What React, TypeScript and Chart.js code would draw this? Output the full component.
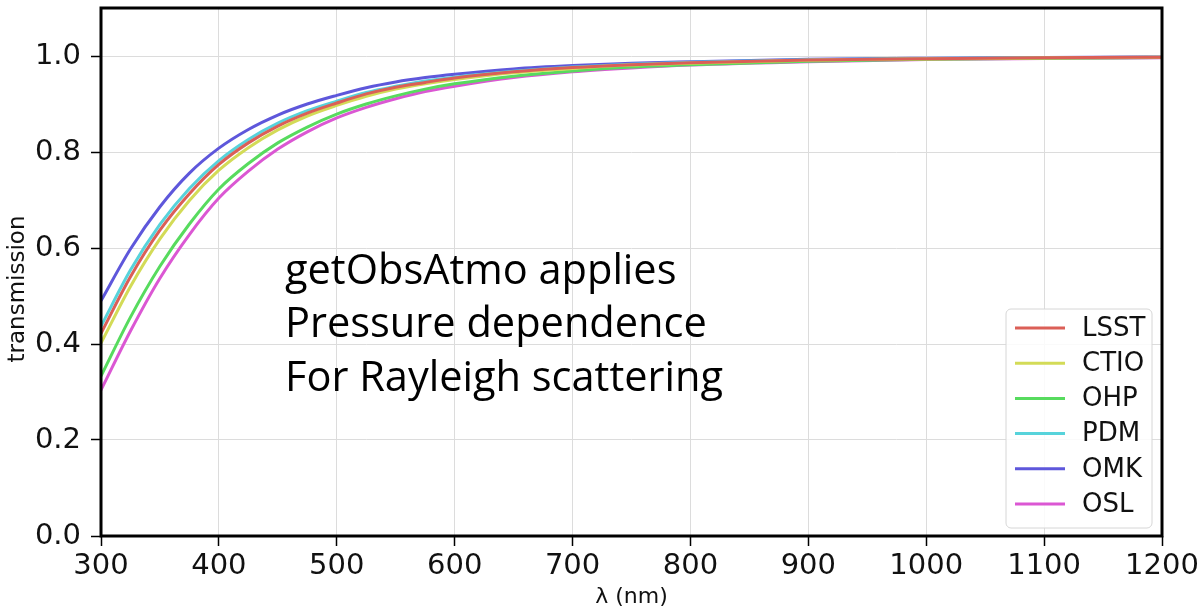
import { useEffect, useRef } from "react";
import { Chart, registerables } from "chart.js";

Chart.register(...registerables);

// ---- data ----
const wavelengths = [300, 325, 350, 375, 400, 425, 450, 475, 500, 525, 550, 575, 600, 650, 700, 750, 800, 900, 1000, 1100, 1200];
const seriesNames = ["LSST", "CTIO", "OHP", "PDM", "OMK", "OSL"];
const seriesColors = ["#db5f57", "#d3db57", "#57db5e", "#57d3db", "#5e57db", "#db57d3"];
const lsst = [0.422, 0.54, 0.637, 0.713, 0.774, 0.819, 0.854, 0.881, 0.902, 0.921, 0.935, 0.945, 0.954, 0.967, 0.976, 0.982, 0.986, 0.9915, 0.9945, 0.9963, 0.9974];
const ctio = [0.402, 0.52, 0.619, 0.699, 0.762, 0.809, 0.846, 0.875, 0.897, 0.916, 0.931, 0.942, 0.951, 0.965, 0.974, 0.981, 0.985, 0.991, 0.994, 0.996, 0.9973];
const ohp = [0.333, 0.456, 0.562, 0.65, 0.723, 0.776, 0.819, 0.852, 0.879, 0.9, 0.917, 0.931, 0.942, 0.958, 0.969, 0.977, 0.982, 0.989, 0.993, 0.9953, 0.9967];
const pdm = [0.437, 0.554, 0.649, 0.724, 0.782, 0.826, 0.86, 0.886, 0.906, 0.924, 0.937, 0.948, 0.956, 0.968, 0.977, 0.983, 0.987, 0.992, 0.995, 0.9965, 0.9975];
const omk = [0.49, 0.598, 0.686, 0.756, 0.808, 0.847, 0.877, 0.9, 0.918, 0.934, 0.946, 0.955, 0.962, 0.973, 0.98, 0.985, 0.988, 0.993, 0.9955, 0.997, 0.998];
const osl = [0.304, 0.427, 0.537, 0.628, 0.704, 0.76, 0.806, 0.842, 0.871, 0.893, 0.911, 0.926, 0.937, 0.955, 0.967, 0.975, 0.981, 0.988, 0.9925, 0.995, 0.9965];
const seriesValues = [lsst, ctio, ohp, pdm, omk, osl];

const xTicks = [300, 400, 500, 600, 700, 800, 900, 1000, 1100, 1200];
const yTicks = [0.0, 0.2, 0.4, 0.6, 0.8, 1.0];
const xAxisLabel = "λ (nm)";
const yAxisLabel = "transmission";
const noteLines = ["getObsAtmo applies", "Pressure dependence", "For Rayleigh scattering"];

const TICK_FONT = "DejaVu Sans";

const framePlugin = {
  id: "frame",
  afterDatasetsDraw(chart: any) {
    const { ctx, chartArea } = chart;
    ctx.save();
    ctx.strokeStyle = "#000";
    ctx.lineWidth = 3;
    ctx.strokeRect(chartArea.left, chartArea.top, chartArea.right - chartArea.left, chartArea.bottom - chartArea.top);
    ctx.restore();
  },
};

const yLabelPlugin = {
  id: "yLabel",
  afterDraw(chart: any) {
    const { ctx } = chart;
    ctx.save();
    ctx.translate(18, 289);
    ctx.rotate(-Math.PI / 2);
    ctx.font = `23px "${TICK_FONT}"`;
    ctx.fillStyle = "#111";
    ctx.textAlign = "center";
    ctx.textBaseline = "middle";
    ctx.fillText(yAxisLabel, 0, 0);
    ctx.restore();
  },
};

const legendPlugin = {
  id: "boxLegend",
  afterDraw(chart: any) {
    const { ctx, chartArea } = chart;
    const w = 146;
    const h = 219;
    const x0 = chartArea.right - 10 - w;
    const y0 = chartArea.bottom - 8 - h;
    ctx.save();
    ctx.beginPath();
    (ctx as any).roundRect(x0, y0, w, h, 5);
    ctx.fillStyle = "rgba(255,255,255,0.85)";
    ctx.fill();
    ctx.strokeStyle = "#d6d6d6";
    ctx.lineWidth = 1;
    ctx.stroke();
    ctx.font = `26px "${TICK_FONT}"`;
    ctx.textBaseline = "middle";
    ctx.textAlign = "left";
    chart.data.datasets.forEach((ds: any, i: number) => {
      const yy = y0 + 19 + i * 35.2;
      ctx.strokeStyle = ds.borderColor;
      ctx.lineWidth = 3;
      ctx.beginPath();
      ctx.moveTo(x0 + 9, yy);
      ctx.lineTo(x0 + 59, yy);
      ctx.stroke();
      ctx.fillStyle = "#111";
      ctx.fillText(ds.label, x0 + 76, yy + 1);
    });
    ctx.restore();
  },
};

const notePlugin = {
  id: "note",
  afterDraw(chart: any) {
    const { ctx } = chart;
    ctx.save();
    ctx.font = '42px "Open Sans"';
    ctx.fillStyle = "#000";
    ctx.textBaseline = "alphabetic";
    ctx.textAlign = "left";
    const ref = ctx.measureText(noteLines[2]).width;
    const sx = 438 / ref;
    const baselines = [284, 337, 391];
    noteLines.forEach((t, i) => {
      ctx.save();
      ctx.translate(285, baselines[i]);
      ctx.scale(sx, 1);
      ctx.fillText(t, 0, 0);
      ctx.restore();
    });
    ctx.restore();
  },
};

export default function App() {
  const ref = useRef<HTMLCanvasElement | null>(null);

  useEffect(() => {
    if (!ref.current) return;
    const datasets = seriesNames.map((name, i) => ({
      label: name,
      data: wavelengths.map((x, j) => ({ x, y: seriesValues[i][j] })),
      borderColor: seriesColors[i],
      backgroundColor: seriesColors[i],
      borderWidth: 3,
      pointRadius: 0,
      fill: false,
      cubicInterpolationMode: "monotone" as const,
    }));

    const chart = new Chart(ref.current, {
      type: "line",
      data: { datasets },
      options: {
        animation: false,
        responsive: false,
        devicePixelRatio: 1,
        layout: { padding: { left: 0, top: 8, right: 41, bottom: 0 } },
        plugins: {
          legend: { display: false },
          tooltip: { enabled: false },
          title: { display: false },
        },
        scales: {
          x: {
            type: "linear",
            min: 300,
            max: 1200,
            afterBuildTicks: (scale: any) => {
              scale.ticks = xTicks.map((v) => ({ value: v }));
            },
            afterFit: (scale: any) => {
              scale.height = 74;
              scale.paddingLeft = 0;
              scale.paddingRight = 0;
            },
            grid: {
              color: "#dcdcdc",
              lineWidth: 1,
              tickColor: "#000",
              tickLength: 10,
              tickWidth: 1.5,
            },
            border: { display: false },
            ticks: {
              color: "#111",
              font: { family: TICK_FONT, size: 29 },
              padding: 3,
              maxRotation: 0,
              autoSkip: false,
              callback: (v: any) => String(v),
            },
            title: {
              display: true,
              text: xAxisLabel,
              color: "#111",
              font: { family: TICK_FONT, size: 22 },
              padding: { top: 0, bottom: 0 },
            },
          },
          y: {
            type: "linear",
            min: 0,
            max: 1.1,
            afterBuildTicks: (scale: any) => {
              scale.ticks = yTicks.map((v) => ({ value: v }));
            },
            afterFit: (scale: any) => {
              scale.width = 101;
              scale.paddingTop = 0;
              scale.paddingBottom = 0;
            },
            grid: {
              color: "#dcdcdc",
              lineWidth: 1,
              tickColor: "#000",
              tickLength: 10,
              tickWidth: 1.5,
            },
            border: { display: false },
            ticks: {
              color: "#111",
              font: { family: TICK_FONT, size: 29 },
              padding: 10,
              autoSkip: false,
              callback: (v: any) => Number(v).toFixed(1),
            },
            title: { display: false },
          },
        },
      },
      plugins: [framePlugin, legendPlugin, notePlugin, yLabelPlugin],
    });
    return () => chart.destroy();
  }, []);

  return (
    <div style={{ position: "absolute", left: 0, top: 0, width: 1203, height: 610, background: "#fff" }}>
      <canvas ref={ref} width={1203} height={610} style={{ width: 1203, height: 610, display: "block" }} />
    </div>
  );
}
